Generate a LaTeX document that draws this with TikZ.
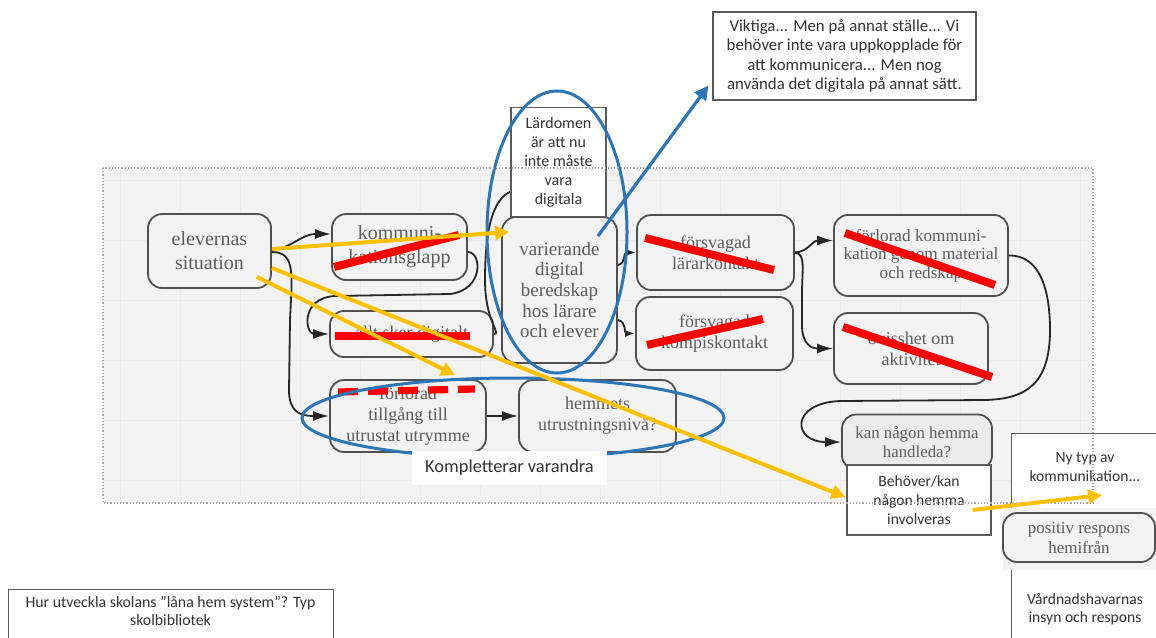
\documentclass[tikz,border=0pt]{standalone}
\usepackage{fontspec}
\setmainfont{Liberation Serif}
\newfontfamily\notefont{Carlito}
\usetikzlibrary{arrows.meta,calc}
\definecolor{bg}{HTML}{F3F3F3}
\definecolor{bgtwo}{HTML}{ECECEC}
\definecolor{gridc}{HTML}{EBEBEB}
\definecolor{boxline}{HTML}{505050}
\definecolor{boxtext}{HTML}{5C5C5C}
\definecolor{noteline}{HTML}{5A5A5A}
\definecolor{notetext}{HTML}{333333}
\definecolor{blueline}{HTML}{2E75B6}
\definecolor{yel}{HTML}{FFC000}
\definecolor{strikered}{HTML}{FF0000}
\tikzset{
  rbox/.style={draw=boxline, line width=0.9pt, rounded corners=7pt, fill=bg, text=boxtext,
    align=center, inner sep=0pt, font=\fontsize{9}{10.5}\selectfont},
  note/.style={draw=noteline, line width=0.6pt, fill=white, text=notetext, align=center,
    inner sep=0pt, font=\notefont\fontsize{8.4}{9.6}\selectfont},
  notetxt/.style={text=notetext, align=center, inner sep=0pt},
  conn/.style={draw=black!85, line width=0.9pt, -{Latex[length=8pt,width=5pt]}},
  connsmall/.style={draw=black!85, line width=0.9pt, -{Latex[length=5pt,width=3.5pt]}},
  yarrow/.style={draw=yel, line width=2pt, -{Triangle[length=7pt,width=7pt]}},
  barrow/.style={draw=blueline, line width=1.6pt, -{Triangle[length=7pt,width=7pt]}},
  strike/.style={draw=strikered, line width=4pt},
  ring/.style={draw=blueline, line width=1.5pt},
}
\begin{document}
\begin{tikzpicture}[x=0.5pt,y=-0.5pt]
\useasboundingbox (0,0) rectangle (1156,637);
% background area
\path[fill=bg] (103,168) rectangle (1093,503);
\begin{scope}
\clip (103,168) rectangle (1093,503);
\draw[gridc, line width=0.4pt, step=30pt] (100,160) grid (1100,510);
\end{scope}

% boxes
\node[rbox, minimum width=61.5pt, minimum height=37pt, font=\fontsize{10}{12}\selectfont] (elev) at (209.5,251) {elevernas\\situation};
\node[rbox, minimum width=67.5pt, minimum height=33pt, font=\fontsize{10}{12}\selectfont] (komm) at (399.5,247) {kommuni-\\kationsglapp};
\node[rbox, minimum width=81.5pt, minimum height=23pt] (allt) at (411.5,334) {allt sker digitalt};
\node[rbox, minimum width=78pt, minimum height=36pt] (forl) at (408,416) {förlorad\\tillgång till\\utrustat utrymme};
\node[rbox, minimum width=78.5pt, minimum height=36pt] (hemm) at (597.5,416) {hemmets\\utrustningsnivå?};
\node[rbox, minimum width=57.5pt, minimum height=73pt, font=\fontsize{9.5}{10.3}\selectfont] (vari) at (559.5,290) {varierande\\digital\\beredskap\\hos lärare\\och elever};
\node[rbox, minimum width=78.5pt, minimum height=37.5pt] (lara) at (715.5,252.5) {försvagad\\lärarkontakt};
\node[rbox, minimum width=78.5pt, minimum height=36.5pt] (komp) at (714.5,333.5) {försvagad\\kompiskontakt};
\node[rbox, minimum width=87pt, minimum height=40.5pt, font=\fontsize{8.6}{9.3}\selectfont] (fkom) at (921,255.5) {förlorad kommuni-\\kation genom material\\och redskap};
\node[rbox, minimum width=77pt, minimum height=35.5pt] (ovis) at (911,348.5) {ovisshet om\\aktivitet};
\node[rbox, fill=bgtwo, minimum width=75pt, minimum height=27.5pt, font=\fontsize{8.4}{9.8}\selectfont] (kan) at (917,442) {kan någon hemma\\handleda?};

% connectors
\draw[conn] ($(elev.east)+(0,-2)$) .. controls (292,249) and (300,234) .. ($(komm.west)+(0,-13)$);
\draw[conn] ($(komm.east)+(0,5)$) .. controls (482,252) and (484,290) .. (450,294) -- (335,296) .. controls (300,298) and (305,334) .. (allt.west);
\draw[conn] ($(elev.east)+(0,1)$) .. controls (296,252) and (292,275) .. (290,320) -- (289,390) .. controls (289,412) and (300,416) .. (forl.west);
\draw[conn] (allt.east) .. controls (502,334) and (485,322) .. (485,280) .. controls (485,222) and (495,195) .. (515,190) .. controls (540,188) and (559,195) .. (vari.north);
\draw[conn] (forl.east) -- (hemm.west);
\draw[connsmall] ($(vari.east)+(0,-25)$) .. controls (627,263) and (622,252.5) .. (lara.west);
\draw[connsmall] ($(vari.east)+(0,30)$) .. controls (627,322) and (624,333.5) .. (komp.west);
\draw[conn] (lara.east) .. controls (808,252) and (812,240.5) .. ($(fkom.west)+(0,-15)$);
\draw[conn] (lara.east) .. controls (806,254) and (802,268) .. (802,295) -- (802,325) .. controls (802,345) and (812,348.5) .. (ovis.west);
\draw[conn] (fkom.east) .. controls (1040,255) and (1050,290) .. (1050,330) .. controls (1050,385) and (1025,399) .. (985,400) -- (840,401) .. controls (790,403) and (792,442) .. (kan.west);

% red strikes
\draw[strike] (334,267) -- (459,235);
\draw[strike, line width=3.6pt] (335,336) -- (470,336);
\draw[strike, line width=3.6pt, dash pattern=on 10pt off 5pt] (338,392) -- (475,389);
\draw[strike] (645,238) -- (774,270);
\draw[strike] (647,345) -- (763,319);
\draw[strike] (845,233) -- (995,285);
\draw[strike] (843,327) -- (992,377);

% Lärdomen note
\node[note, minimum width=47.5pt, minimum height=54.5pt, font=\notefont\fontsize{8}{9.5}\selectfont] (lard) at (558.5,162) {Lärdomen\\är att nu\\inte måste\\vara\\digitala};

% blue rings
\draw[ring] (557,232) ellipse [x radius=35pt, y radius=70.5pt];
\draw[ring] (513,418) ellipse [x radius=105.5pt, y radius=20pt];
\node[fill=white, inner sep=0pt, minimum width=97.5pt, minimum height=17pt, text=notetext, font=\notefont\fontsize{9.2}{11}\selectfont] (kv) at (509.5,468) {Kompletterar varandra};

% notes
\node[note, minimum width=131.5pt, minimum height=44pt] (vik) at (844.5,56) {Viktiga... Men på annat ställe... Vi\\behöver inte vara uppkopplade för\\att kommunicera... Men nog\\använda det digitala på annat sätt.};
\node[note, minimum width=72pt, minimum height=35pt, font=\notefont\fontsize{7.8}{9.6}\selectfont] (beh) at (919,500) {Behöver/kan\\någon hemma\\involveras};
\node[note, minimum width=76pt, minimum height=110pt, anchor=north west] (nyframe) at (1011,433) {};
\node[notetxt, font=\notefont\fontsize{7.8}{9.6}\selectfont] (nytext) at (1085,467) {Ny typ av\\kommunikation...};
\node[notetxt, font=\notefont\fontsize{7.8}{9.2}\selectfont] (vard) at (1085,609) {Vårdnadshavarnas\\insyn och respons};
\path[fill=bg] (1003,508) rectangle (1160,570);
\node[rbox, minimum width=76pt, minimum height=24.5pt, font=\fontsize{8.5}{10}\selectfont] (pos) at (1079,537.5) {positiv respons\\hemifrån};
\node[note, minimum width=162.5pt, minimum height=30pt, anchor=north west] (hurframe) at (8,589) {};
\node[notetxt, font=\notefont\fontsize{7.9}{8.8}\selectfont] (hur) at (170.5,611) {Hur utveckla skolans ”låna hem system”? Typ\\skolbibliotek};

% dotted frame of the area
\draw[gray!70, line width=0.6pt, densely dotted] (103,168) rectangle (1093,503);

% yellow arrows
\draw[yarrow] ($(elev.east)+(0,-2)$) -- ($(vari.west)+(8,-58)$);
\draw[yarrow] ($(elev.east)+(0,17)$) -- ($(beh.west)+(-1,-3)$);
\draw[yarrow] ($(elev.south east)+(-15,-12)$) -- ($(forl.north)+(47,-4)$);
\draw[yarrow] ($(beh.east)+(-19,10)$) -- ($(nyframe.north west)+(91,62)$);

% blue arrow
\draw[barrow] ($(vari.north east)+(-20,20)$) -- ($(vik.south west)+(-4,-15)$);
\end{tikzpicture}
\end{document}
